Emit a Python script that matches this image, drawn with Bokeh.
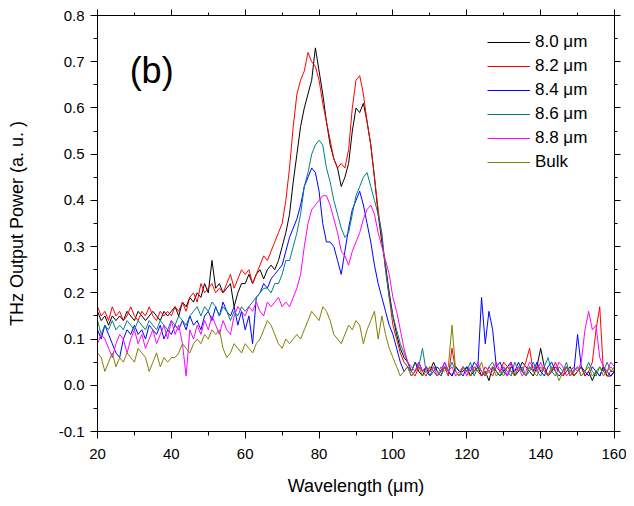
from bokeh.plotting import figure
from bokeh.models import (Range1d, SingleIntervalTicker, LinearAxis, NumeralTickFormatter,
                          Legend, LegendItem, Label)
from bokeh.embed import file_html
from bokeh.resources import INLINE

wavelength = list(range(20, 161))

p_80 = [0.16,0.14,0.15,0.13,0.15,0.14,0.15,0.14,0.16,0.15,
        0.14,0.16,0.15,0.14,0.15,0.16,0.15,0.14,0.16,0.15,
        0.16,0.17,0.15,0.18,0.17,0.19,0.18,0.20,0.19,0.22,
        0.20,0.27,0.21,0.22,0.20,0.21,0.22,0.17,0.20,0.22,
        0.22,0.24,0.22,0.24,0.25,0.23,0.25,0.26,0.25,0.27,
        0.30,0.33,0.37,0.44,0.50,0.56,0.60,0.63,0.66,0.73,
        0.68,0.63,0.57,0.52,0.49,0.47,0.43,0.45,0.48,0.55,
        0.60,0.59,0.61,0.57,0.52,0.45,0.37,0.31,0.26,0.20,
        0.15,0.11,0.08,0.06,0.05,0.03,0.05,0.03,0.02,0.04,
        0.03,0.05,0.03,0.02,0.04,0.03,0.02,0.04,0.03,0.03,
        0.04,0.02,0.03,0.04,0.02,0.03,0.01,0.04,0.03,0.02,
        0.03,0.04,0.05,0.02,0.03,0.05,0.04,0.03,0.02,0.04,
        0.08,0.04,0.02,0.03,0.04,0.03,0.02,0.03,0.04,0.02,
        0.03,0.04,0.02,0.03,0.01,0.03,0.02,0.04,0.02,0.02,
        0.03]

p_82 = [0.17,0.15,0.16,0.14,0.17,0.15,0.16,0.14,0.15,0.17,
        0.15,0.14,0.16,0.15,0.17,0.15,0.14,0.16,0.15,0.16,
        0.15,0.17,0.16,0.18,0.16,0.19,0.20,0.18,0.22,0.20,
        0.21,0.22,0.20,0.21,0.20,0.22,0.24,0.21,0.23,0.25,
        0.24,0.25,0.22,0.24,0.26,0.28,0.27,0.29,0.31,0.33,
        0.35,0.40,0.47,0.56,0.63,0.66,0.68,0.72,0.70,0.69,
        0.66,0.61,0.57,0.53,0.49,0.47,0.48,0.47,0.51,0.60,
        0.66,0.67,0.63,0.57,0.52,0.45,0.38,0.32,0.25,0.19,
        0.13,0.10,0.07,0.05,0.04,0.03,0.02,0.04,0.03,0.02,
        0.04,0.03,0.02,0.03,0.04,0.02,0.08,0.03,0.02,0.04,
        0.03,0.02,0.04,0.03,0.02,0.04,0.03,0.02,0.04,0.03,
        0.05,0.04,0.03,0.02,0.04,0.03,0.05,0.08,0.03,0.04,
        0.03,0.04,0.02,0.03,0.05,0.03,0.02,0.04,0.03,0.02,
        0.03,0.04,0.02,0.03,0.05,0.12,0.17,0.03,0.02,0.03,
        0.03]

p_84 = [0.12,0.10,0.13,0.11,0.09,0.07,0.06,0.10,0.12,0.11,
        0.13,0.11,0.12,0.10,0.13,0.12,0.11,0.13,0.10,0.12,
        0.11,0.13,0.12,0.14,0.12,0.15,0.13,0.14,0.12,0.15,
        0.16,0.14,0.17,0.15,0.18,0.16,0.15,0.17,0.13,0.16,
        0.12,0.15,0.09,0.19,0.20,0.22,0.21,0.23,0.24,0.25,
        0.26,0.29,0.32,0.34,0.36,0.39,0.43,0.45,0.47,0.46,
        0.42,0.35,0.31,0.31,0.30,0.27,0.24,0.29,0.34,0.38,
        0.40,0.42,0.39,0.35,0.31,0.26,0.22,0.19,0.16,0.13,
        0.11,0.08,0.05,0.03,0.04,0.02,0.03,0.05,0.03,0.04,
        0.02,0.03,0.04,0.03,0.05,0.03,0.02,0.04,0.03,0.02,
        0.04,0.03,0.05,0.04,0.19,0.09,0.16,0.12,0.04,0.05,
        0.03,0.02,0.04,0.03,0.05,0.03,0.02,0.04,0.03,0.05,
        0.03,0.02,0.04,0.05,0.03,0.02,0.03,0.04,0.02,0.03,
        0.11,0.04,0.03,0.02,0.04,0.03,0.02,0.04,0.03,0.02,
        0.03]

p_86 = [0.14,0.11,0.13,0.12,0.14,0.12,0.13,0.12,0.14,0.13,
        0.12,0.14,0.13,0.12,0.14,0.13,0.12,0.14,0.13,0.12,
        0.14,0.13,0.15,0.14,0.13,0.15,0.16,0.17,0.15,0.17,
        0.16,0.18,0.17,0.15,0.17,0.16,0.14,0.16,0.15,0.17,
        0.16,0.17,0.18,0.19,0.20,0.21,0.21,0.20,0.22,0.22,
        0.24,0.27,0.27,0.30,0.33,0.37,0.43,0.46,0.50,0.52,
        0.53,0.52,0.47,0.44,0.40,0.37,0.34,0.32,0.33,0.37,
        0.41,0.43,0.45,0.46,0.43,0.40,0.37,0.33,0.25,0.19,
        0.15,0.12,0.09,0.07,0.05,0.03,0.05,0.04,0.08,0.03,
        0.02,0.04,0.03,0.02,0.04,0.03,0.05,0.03,0.02,0.04,
        0.03,0.05,0.02,0.04,0.03,0.02,0.04,0.05,0.03,0.02,
        0.04,0.03,0.02,0.05,0.03,0.04,0.02,0.03,0.05,0.03,
        0.02,0.04,0.06,0.03,0.02,0.04,0.03,0.05,0.02,0.03,
        0.04,0.02,0.03,0.05,0.03,0.02,0.04,0.03,0.05,0.03,
        0.04]

p_88 = [0.09,0.11,0.10,0.08,0.06,0.09,0.11,0.10,0.07,0.10,
        0.12,0.09,0.11,0.08,0.10,0.12,0.09,0.11,0.13,0.10,
        0.14,0.11,0.13,0.09,0.02,0.12,0.10,0.13,0.11,0.14,
        0.12,0.15,0.13,0.11,0.14,0.12,0.11,0.15,0.17,0.16,
        0.15,0.17,0.16,0.18,0.16,0.15,0.18,0.17,0.18,0.19,
        0.17,0.18,0.17,0.19,0.21,0.24,0.30,0.35,0.38,0.39,
        0.40,0.41,0.41,0.39,0.36,0.33,0.29,0.28,0.26,0.29,
        0.31,0.33,0.36,0.38,0.39,0.37,0.33,0.30,0.27,0.24,
        0.19,0.16,0.12,0.08,0.05,0.04,0.03,0.05,0.03,0.04,
        0.03,0.04,0.02,0.03,0.05,0.03,0.04,0.02,0.03,0.04,
        0.02,0.04,0.03,0.05,0.03,0.02,0.04,0.03,0.05,0.03,
        0.04,0.02,0.05,0.03,0.04,0.02,0.03,0.05,0.04,0.03,
        0.05,0.03,0.02,0.04,0.03,0.05,0.04,0.02,0.03,0.04,
        0.03,0.05,0.12,0.16,0.12,0.13,0.06,0.04,0.03,0.05,
        0.04]

p_bulk = [0.07,0.06,0.03,0.05,0.07,0.04,0.06,0.05,0.07,0.06,
          0.05,0.08,0.07,0.06,0.03,0.05,0.07,0.04,0.06,0.05,
          0.06,0.06,0.07,0.09,0.08,0.07,0.09,0.10,0.09,0.11,
          0.10,0.12,0.11,0.12,0.08,0.06,0.07,0.09,0.08,0.07,
          0.09,0.08,0.07,0.09,0.10,0.12,0.14,0.13,0.11,0.09,
          0.08,0.10,0.09,0.10,0.11,0.10,0.12,0.14,0.16,0.15,
          0.14,0.17,0.16,0.14,0.11,0.10,0.09,0.11,0.13,0.12,
          0.14,0.13,0.09,0.12,0.14,0.16,0.10,0.15,0.11,0.08,
          0.06,0.04,0.02,0.03,0.04,0.02,0.03,0.04,0.02,0.03,
          0.04,0.03,0.02,0.04,0.03,0.04,0.13,0.03,0.02,0.04,
          0.03,0.02,0.04,0.03,0.05,0.02,0.03,0.04,0.02,0.03,
          0.02,0.04,0.03,0.02,0.04,0.03,0.02,0.04,0.03,0.02,
          0.04,0.03,0.02,0.04,0.03,0.01,0.03,0.04,0.02,0.03,
          0.04,0.02,0.03,0.04,0.02,0.03,0.04,0.02,0.03,0.04,
          0.03]

series_labels = ["8.0 \u03bcm", "8.2 \u03bcm", "8.4 \u03bcm", "8.6 \u03bcm", "8.8 \u03bcm", "Bulk"]
series_values = [p_80, p_82, p_84, p_86, p_88, p_bulk]
series_colors = ["#000000", "#FF0000", "#0000FF", "#008080", "#FF00FF", "#808000"]

FONT = "Liberation Sans"

p = figure(width=626, height=498, output_backend="svg", toolbar_location=None,
           x_range=Range1d(20, 160), y_range=Range1d(-0.1, 0.8),
           min_border_left=97, min_border_right=12, min_border_top=15, min_border_bottom=64)
p.xgrid.visible = False
p.ygrid.visible = False
p.outline_line_color = "black"
p.outline_line_width = 1
p.background_fill_color = "white"
p.border_fill_color = "white"

xa = p.xaxis[0]
xa.ticker = SingleIntervalTicker(interval=20, num_minor_ticks=2)
xa.axis_label = "Wavelength (\u03bcm)"
ya = p.yaxis[0]
ya.ticker = SingleIntervalTicker(interval=0.1, num_minor_ticks=2)
ya.axis_label = "THz Output Power (a. u. )"
ya.formatter = NumeralTickFormatter(format="0.0")

for ax in (xa, ya):
    ax.major_tick_out = 7
    ax.major_tick_in = 0
    ax.minor_tick_out = 4
    ax.minor_tick_in = 0
    ax.axis_line_color = "black"
    ax.major_tick_line_color = "black"
    ax.minor_tick_line_color = "black"
    ax.major_label_text_font = FONT
    ax.major_label_text_font_size = "15px"
    ax.major_label_text_color = "black"
    ax.axis_label_text_font = FONT
    ax.axis_label_text_font_size = "18px"
    ax.axis_label_text_font_style = "normal"
    ax.axis_label_text_color = "black"
xa.major_label_standoff = 10
xa.axis_label_standoff = 14
ya.major_label_standoff = 6
ya.axis_label_standoff = 29

for loc, iv in (("above", 20), ("right", 0.1)):
    ax = LinearAxis(ticker=SingleIntervalTicker(interval=iv, num_minor_ticks=2),
                    major_label_text_font_size="0px", major_label_text_color=None,
                    major_label_standoff=0,
                    major_tick_out=6, major_tick_in=0, minor_tick_out=3, minor_tick_in=0,
                    axis_line_color="black", major_tick_line_color="black",
                    minor_tick_line_color="black")
    p.add_layout(ax, loc)

items = []
for lab, vals, col in zip(series_labels, series_values, series_colors):
    r = p.line(wavelength, vals, line_color=col, line_width=1)
    items.append(LegendItem(label=lab, renderers=[r]))

legend = Legend(items=items, location=(390, 259), padding=0, margin=0, spacing=4,
                glyph_width=43, glyph_height=20, label_height=20, label_standoff=5,
                label_text_font=FONT, label_text_font_size="17px", label_text_color="black",
                border_line_alpha=0, background_fill_alpha=0)
p.add_layout(legend)

p.add_layout(Label(x=28.7, y=0.68, text="(b)", text_font=FONT, text_font_size="36px",
                   text_baseline="middle", text_align="left", text_color="black"))

open("out.html", "w").write(file_html(p, INLINE))
